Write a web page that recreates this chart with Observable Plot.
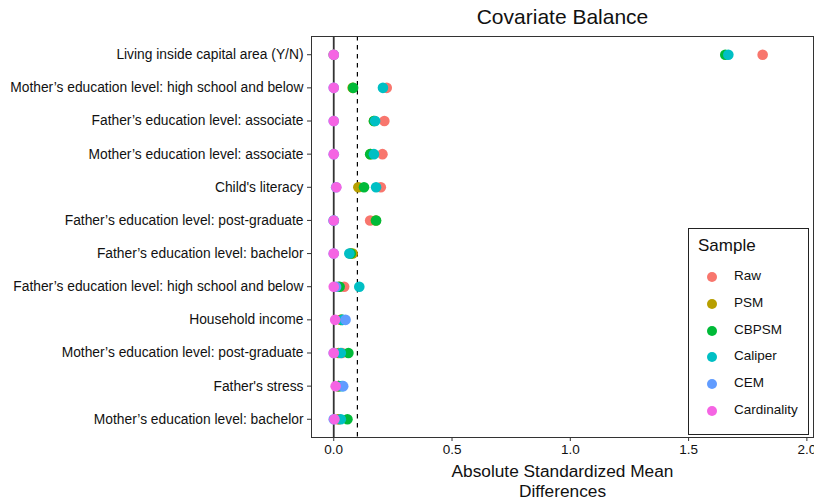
<!DOCTYPE html>
<html>
<head>
<meta charset="utf-8">
<script src="https://cdn.jsdelivr.net/npm/d3@7"></script>
<script src="https://cdn.jsdelivr.net/npm/@observablehq/plot@0.6"></script>
<style>
  body { margin: 0; background: #fff; font-family: "Liberation Sans", Arial, sans-serif; }
  #wrap { position: relative; width: 814px; height: 500px; }
  #legend { position: absolute; left: 688px; top: 228px; width: 121px; height: 207px;
            border: 1px solid #222; box-sizing: border-box; background: #fff; }
  #legend .ttl { position: absolute; left: 9px; top: 7px; font-size: 17px; color: #111; }
  #legend .item { position: absolute; left: 0; height: 20px; width: 120px; }
  #legend .dot { position: absolute; left: 18px; top: 5px; width: 10px; height: 10px; border-radius: 50%; }
  #legend .lab { position: absolute; left: 45px; top: 1px; font-size: 13.5px; color: #111; }
</style>
</head>
<body>
<div id="wrap"><div id="legend"></div></div>
<script>
const variables = [
  "Living inside capital area (Y/N)",
  "Mother\u2019s education level: high school and below",
  "Father\u2019s education level: associate",
  "Mother\u2019s education level: associate",
  "Child's literacy",
  "Father\u2019s education level: post-graduate",
  "Father\u2019s education level: bachelor",
  "Father\u2019s education level: high school and below",
  "Household income",
  "Mother\u2019s education level: post-graduate",
  "Father's stress",
  "Mother\u2019s education level: bachelor"
];
const series = ["Raw", "PSM", "CBPSM", "Caliper", "CEM", "Cardinality"];
const colors = ["#F8766D", "#B79F00", "#00BA38", "#00BFC4", "#619CFF", "#F564E3"];

const raw         = [1.813, 0.224, 0.214, 0.206, 0.199, 0.154, 0.070, 0.044, 0.030, 0.035, 0.020, 0.020];
const psm         = [0.000, 0.080, 0.170, 0.155, 0.104, 0.178, 0.080, 0.020, 0.030, 0.020, 0.020, 0.020];
const cbpsm       = [1.655, 0.082, 0.170, 0.154, 0.128, 0.179, 0.072, 0.025, 0.035, 0.062, 0.020, 0.058];
const caliper     = [1.668, 0.208, 0.175, 0.170, 0.179, 0.000, 0.066, 0.108, 0.038, 0.030, 0.035, 0.030];
const cem         = [0.000, 0.000, 0.000, 0.000, 0.010, 0.000, 0.000, 0.010, 0.050, 0.000, 0.040, 0.000];
const cardinality = [0.000, 0.000, 0.000, 0.000, 0.011, 0.000, 0.000, 0.000, 0.006, 0.000, 0.008, 0.003];

const xTicks = [0, 0.5, 1, 1.5, 2];
const threshold = [0.1];
const zeroLine = [0];
const title = "Covariate Balance";
const xLabel = "Absolute Standardized Mean\nDifferences";

const valuesBySeries = [raw, psm, cbpsm, caliper, cem, cardinality];
const data = [];
series.forEach((s, i) => {
  variables.forEach((v, j) => data.push({variable: v, sample: s, value: valuesBySeries[i][j]}));
});

const chart = Plot.plot({
  width: 814,
  height: 500,
  marginLeft: 311,
  marginRight: 1,
  marginTop: 36,
  marginBottom: 63,
  style: {fontFamily: "'Liberation Sans', Arial, sans-serif", color: "#111", background: "#fff"},
  x: {domain: [-0.094, 2.028]},
  y: {type: "point", domain: variables, padding: 0.55, round: false},
  color: {domain: series, range: colors},
  marks: [
    Plot.ruleX(zeroLine, {stroke: "#333", strokeWidth: 1.8}),
    Plot.ruleX(threshold, {stroke: "#000", strokeWidth: 1.2, strokeDasharray: "4.5,4.5"}),
    Plot.dot(data, {x: "value", y: "variable", fill: "sample", r: 5.3, stroke: "none"}),
    Plot.frame({stroke: "#333", strokeWidth: 1}),
    Plot.axisX({ticks: xTicks, tickFormat: d3.format(".1f"), tickSize: 4, tickPadding: 3, fontSize: 13.5, label: null, stroke: "#333"}),
    Plot.axisY({tickSize: 4, tickPadding: 4, fontSize: 13.8, label: null, stroke: "#333"}),
    Plot.text([title], {frameAnchor: "top", lineAnchor: "middle", dy: -19, fontSize: 21, fill: "#111"}),
    Plot.text([xLabel], {frameAnchor: "bottom", lineAnchor: "top", dy: 25, fontSize: 17.3, lineHeight: 1.17, fill: "#111"})
  ]
});
document.getElementById("wrap").prepend(chart);

const legend = d3.select("#legend");
legend.append("div").attr("class", "ttl").text("Sample");
const cs = chart.scale("color");
series.forEach((s, i) => {
  const it = legend.append("div").attr("class", "item").style("top", (38 + i * 26.8) + "px");
  it.append("div").attr("class", "dot").style("background", cs.apply(s));
  it.append("div").attr("class", "lab").text(s);
});
</script>
</body>
</html>
